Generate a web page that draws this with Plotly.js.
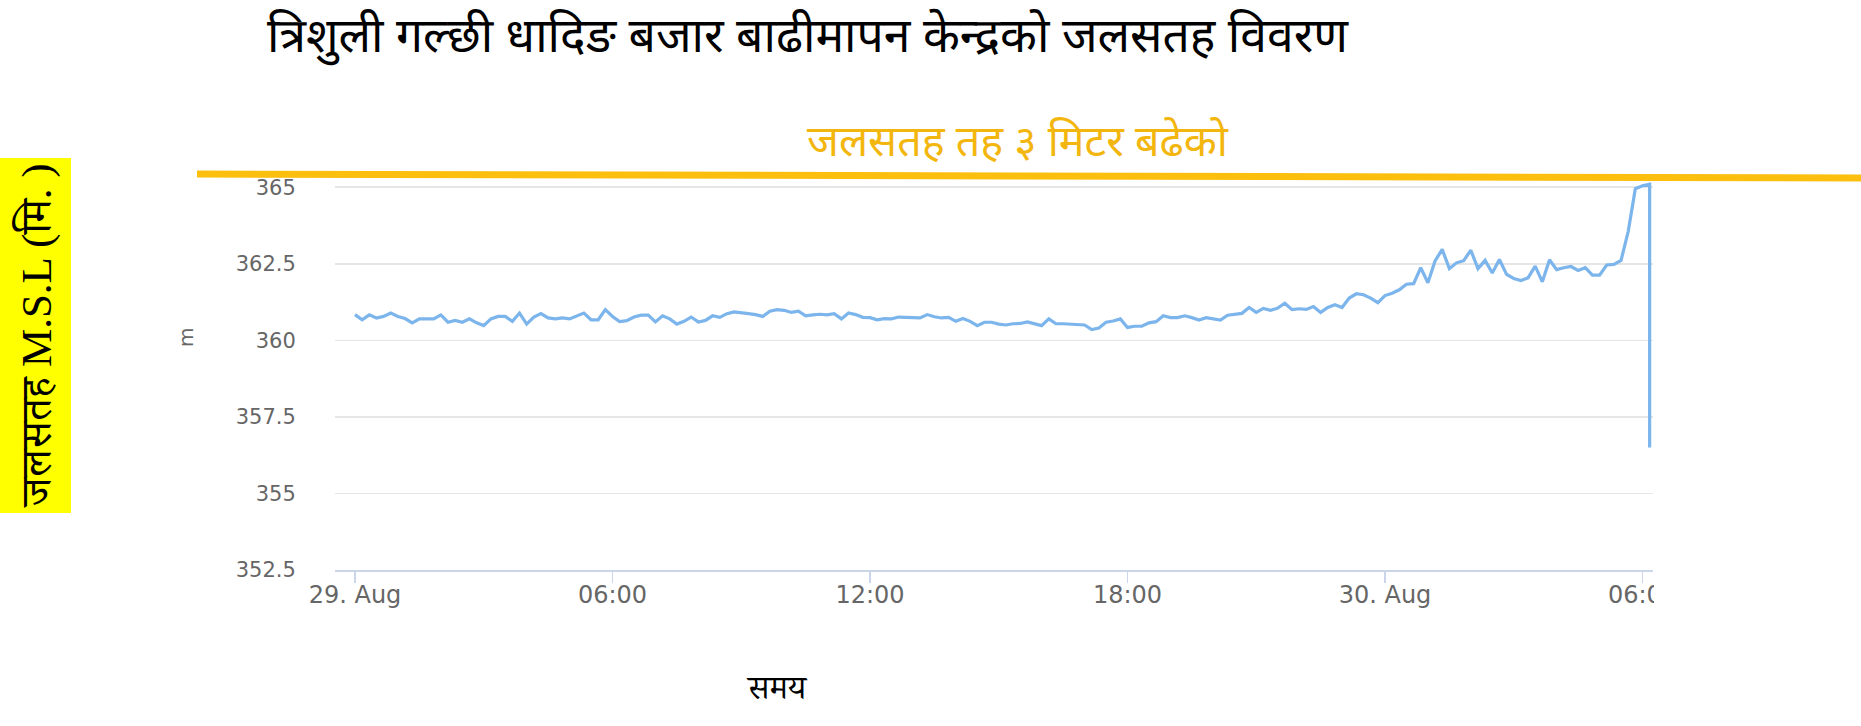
<!DOCTYPE html>
<html>
<head>
<meta charset="utf-8">
<script src="https://cdn.plot.ly/plotly-3.0.1.min.js"></script>
<style>
  html, body { margin: 0; padding: 0; background: #ffffff; }
  #chart { width: 1861px; height: 726px; }
</style>
</head>
<body>
<div id="chart"></div>
<script>
// ---- data ----
const chartTitle = 'त्रिशुली गल्छी धादिङ बजार बाढीमापन केन्द्रको जलसतह विवरण';
const warningText = 'जलसतह तह ३ मिटर बढेको';
const yAxisLabel = 'जलसतह M.S.L (मि. )';
const yUnit = 'm';
const xAxisLabel = 'समय';

const seriesStart = '2019-08-29 00:00';
const stepMinutes = 10;

// water level (m) every 10 minutes from 29 Aug 00:00
const waterLevel = [
  360.84, 360.67, 360.83, 360.73, 360.78, 360.89, 360.78, 360.71, 360.57, 360.70,
  360.70, 360.70, 360.83, 360.59, 360.65, 360.59, 360.70, 360.57, 360.48, 360.70,
  360.78, 360.78, 360.62, 360.89, 360.53, 360.76, 360.87, 360.73, 360.70, 360.73,
  360.70, 360.80, 360.89, 360.67, 360.67, 361.00, 360.78, 360.61, 360.64, 360.76,
  360.82, 360.82, 360.60, 360.80, 360.70, 360.53, 360.62, 360.76, 360.60, 360.65,
  360.80, 360.75, 360.87, 360.93, 360.89, 360.87, 360.84, 360.78, 360.95, 361.00,
  360.98, 360.91, 360.95, 360.80, 360.83, 360.85, 360.83, 360.87, 360.70, 360.89,
  360.84, 360.75, 360.74, 360.67, 360.71, 360.70, 360.76, 360.75, 360.73, 360.73,
  360.84, 360.77, 360.73, 360.75, 360.62, 360.71, 360.62, 360.48, 360.59, 360.59,
  360.53, 360.50, 360.54, 360.55, 360.60, 360.53, 360.48, 360.70, 360.54, 360.54,
  360.53, 360.51, 360.50, 360.35, 360.40, 360.59, 360.63, 360.70, 360.42, 360.46,
  360.46, 360.57, 360.61, 360.80, 360.74, 360.74, 360.80, 360.74, 360.66, 360.74,
  360.71, 360.66, 360.82, 360.85, 360.88, 361.07, 360.91, 361.04, 360.98, 361.05,
  361.21, 361.00, 361.03, 361.01, 361.10, 360.91, 361.07, 361.16, 361.07, 361.38,
  361.52, 361.49, 361.38, 361.23, 361.46, 361.54, 361.65, 361.83, 361.85, 362.37,
  361.88, 362.59, 362.97, 362.34, 362.53, 362.60, 362.94, 362.34, 362.61, 362.20,
  362.64, 362.15, 362.02, 361.95, 362.04, 362.42, 361.91, 362.63, 362.31, 362.37,
  362.41, 362.28, 362.37, 362.13, 362.13, 362.46, 362.48, 362.61, 363.55, 364.95,
  365.05, 365.10
];
// final reading at the same time stamp as the last one (sudden drop)
const dropLevel = 356.5;

const xTickValues = ['2019-08-29 00:00', '2019-08-29 06:00', '2019-08-29 12:00',
                     '2019-08-29 18:00', '2019-08-30 00:00', '2019-08-30 06:00'];
const xTickLabels = ['29. Aug', '06:00', '12:00', '18:00', '30. Aug', '06:00'];
const yTickValues = [352.5, 355, 357.5, 360, 362.5, 365];
const yTickLabels = ['352.5', '355', '357.5', '360', '362.5', '365'];

// ---- build the series ----
function stamp(i) {
  const p = seriesStart.split(/[- :]/).map(Number);
  const t = Date.UTC(p[0], p[1] - 1, p[2], p[3], p[4]) + i * stepMinutes * 60000;
  return new Date(t).toISOString().slice(0, 16).replace('T', ' ');
}
const xs = waterLevel.map((v, i) => stamp(i));
const ys = waterLevel.slice();
xs.push(xs[xs.length - 1]);
ys.push(dropLevel);

// ---- pixel helpers for layout placement ----
const W = 1861, H = 726;
const plotL = 335, plotR = 1653, plotT = 178, plotB = 570;
const px = x => (x - plotL) / (plotR - plotL);
const py = y => (plotB - y) / (plotB - plotT);

const devFont = '"Noto Sans Devanagari", "Noto Sans", sans-serif';
const serifFont = '"Liberation Serif", "Noto Serif Devanagari", "Noto Sans Devanagari", serif';

const trace = {
  type: 'scatter', mode: 'lines',
  x: xs, y: ys,
  line: { color: '#7cb5ec', width: 3.2 },
  hoverinfo: 'x+y'
};

const layout = {
  width: W, height: H,
  margin: { l: plotL, r: W - plotR, t: plotT, b: H - plotB, pad: 0 },
  paper_bgcolor: '#ffffff', plot_bgcolor: '#ffffff',
  showlegend: false,
  xaxis: {
    type: 'date',
    range: ['2019-08-28 23:32:02', '2019-08-30 06:14:42'],
    tickmode: 'array', tickvals: xTickValues, ticktext: xTickLabels,
    showgrid: false, zeroline: false,
    showline: true, linecolor: '#ccd6eb', linewidth: 1.5,
    ticks: 'outside', ticklen: 11, tickcolor: '#ccd6eb', tickwidth: 1.5,
    ticklabelstandoff: -8,
    tickfont: { family: '"DejaVu Sans", sans-serif', size: 24, color: '#666666' },
    fixedrange: true
  },
  yaxis: {
    range: [352.5, 365.3],
    tickmode: 'array', tickvals: yTickValues, ticktext: yTickLabels,
    showgrid: true, gridcolor: '#e6e6e6', gridwidth: 1.5,
    zeroline: false, showline: false,
    ticks: 'outside', ticklen: 34, tickcolor: 'rgba(0,0,0,0)',
    tickfont: { family: '"DejaVu Sans", sans-serif', size: 21, color: '#666666' },
    fixedrange: true
  },
  shapes: [
    // white mask clipping the last x tick label at the plot edge
    { type: 'rect', xref: 'paper', yref: 'paper', layer: 'above',
      x0: px(plotR + 1), x1: px(1740), y0: py(572), y1: py(630),
      fillcolor: '#ffffff', line: { width: 0 } },
    // yellow box behind the left label
    { type: 'rect', xref: 'paper', yref: 'paper', layer: 'above',
      x0: px(0), x1: px(71), y0: py(513), y1: py(158),
      fillcolor: '#ffff00', line: { width: 0 } },
    // gold warning line
    { type: 'line', xref: 'paper', yref: 'paper', layer: 'above',
      x0: px(197), y0: py(174), x1: px(1861), y1: py(178),
      line: { color: '#fcbf0e', width: 7 } }
  ],
  annotations: [
    { text: chartTitle, xref: 'paper', yref: 'paper', x: px(808), y: py(40),
      xanchor: 'center', yanchor: 'middle', showarrow: false,
      font: { family: devFont, size: 48, color: '#000000' } },
    { text: warningText, xref: 'paper', yref: 'paper', x: px(1018), y: py(145),
      xanchor: 'center', yanchor: 'middle', showarrow: false,
      font: { family: devFont, size: 43, color: '#f3b60e' } },
    { text: yAxisLabel, xref: 'paper', yref: 'paper', x: px(36), y: py(336),
      xanchor: 'center', yanchor: 'middle', showarrow: false, textangle: -90,
      font: { family: serifFont, size: 43, color: '#000000' } },
    { text: yUnit, xref: 'paper', yref: 'paper', x: px(186), y: py(338),
      xanchor: 'center', yanchor: 'middle', showarrow: false, textangle: -90,
      font: { family: '"DejaVu Sans", sans-serif', size: 20, color: '#666666' } },
    { text: xAxisLabel, xref: 'paper', yref: 'paper', x: px(777), y: py(688),
      xanchor: 'center', yanchor: 'middle', showarrow: false,
      font: { family: serifFont, size: 33, color: '#000000' } }
  ]
};

Plotly.newPlot('chart', [trace], layout, { displayModeBar: false, staticPlot: true });
</script>
</body>
</html>
